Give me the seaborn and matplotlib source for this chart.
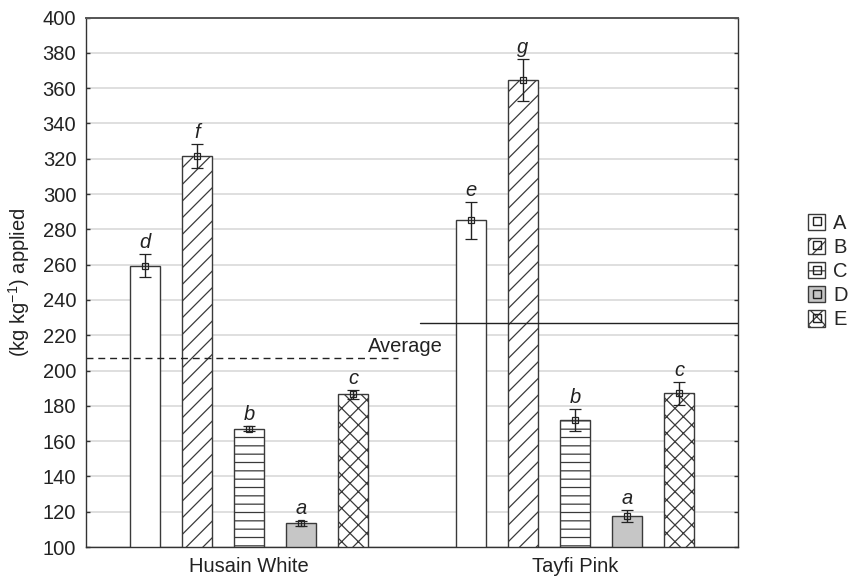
import numpy as np
import pandas as pd
import matplotlib
matplotlib.use("Agg")
import matplotlib.pyplot as plt
import seaborn as sns
from matplotlib.patches import Patch
from matplotlib.lines import Line2D

# ---- data -------------------------------------------------------------
cultivars = ["Husain White", "Tayfi Pink"]
treatments = ["A", "B", "C", "D", "E"]
husain_values = [259.5, 321.5, 167.0, 113.5, 186.5]
tayfi_values = [285.0, 364.5, 172.0, 117.5, 187.0]
husain_errors = [6.4, 6.7, 1.5, 1.5, 2.5]
tayfi_errors = [10.5, 12.0, 6.0, 3.5, 6.5]
husain_letters = ["d", "f", "b", "a", "c"]
tayfi_letters = ["e", "g", "b", "a", "c"]
average_values = [207.0, 227.0]
y_ticks = list(range(100, 401, 20))

# ---- style ------------------------------------------------------------
sns.set_style("white")
plt.rcParams["font.family"] = ["Liberation Sans", "DejaVu Sans"]
plt.rcParams["mathtext.fontset"] = "custom"
plt.rcParams["mathtext.rm"] = "Liberation Sans"
plt.rcParams["hatch.linewidth"] = 0.9
plt.rcParams["hatch.color"] = "#3a3a3a"
ink = "#222222"
fs = 14.5

df = pd.DataFrame({
    "cultivar": np.repeat(cultivars, len(treatments)),
    "treatment": treatments * len(cultivars),
    "value": husain_values + tayfi_values,
    "error": husain_errors + tayfi_errors,
    "letter": husain_letters + tayfi_letters,
})

fills = {"A": "white", "B": "white", "C": "white", "D": "#c6c6c6", "E": "white"}
hatches = {"A": "", "B": "//", "C": "--", "D": "", "E": "xx"}

fig = plt.figure(figsize=(8.51, 5.82), dpi=100)
ax = fig.add_axes([0.1011, 0.0601, 0.7661, 0.9098])

sns.barplot(
    data=df, x="cultivar", y="value", hue="treatment",
    order=cultivars, hue_order=treatments, palette=fills, saturation=1,
    width=0.8, gap=0.425, errorbar=None, edgecolor="#3a3a3a",
    linewidth=1.0, legend=False, ax=ax, zorder=2,
)

# hatching, error bars and significance letters per bar
for t, cont in zip(treatments, ax.containers):
    sub = df[df["treatment"] == t].set_index("cultivar").loc[cultivars]
    for bar, (_, row) in zip(cont, sub.iterrows()):
        bar.set_hatch(hatches[t])
        xc = bar.get_x() + bar.get_width() / 2
        ax.errorbar(xc, row["value"], yerr=row["error"], fmt="s", ms=5,
                    mfc="none", mec=ink, mew=0.9, ecolor=ink,
                    elinewidth=1.0, capsize=4.5, capthick=1.0, zorder=3)
        ax.annotate(row["letter"], (xc, row["value"] + row["error"]),
                    xytext=(0, 1.5), textcoords="offset points",
                    ha="center", va="bottom", fontsize=fs, style="italic",
                    color=ink)

# cultivar averages
ax.plot([-0.5, 0.457], [average_values[0]] * 2, ls=(0, (5, 3.5)),
        color=ink, lw=1.0, zorder=2.5)
ax.text(0.365, average_values[0] + 1.2, "Average", fontsize=fs,
        ha="left", va="bottom", color=ink)
ax.plot([0.525, 1.5], [average_values[1]] * 2, color=ink, lw=1.0, zorder=2.5)

# axes
ax.set_xlim(-0.5, 1.5)
ax.set_ylim(100, 400)
ax.set_yticks(y_ticks)
ax.set_axisbelow(True)
ax.yaxis.grid(True, color="#d9d9d9", lw=1.2)
ax.xaxis.grid(False)
for s in ax.spines.values():
    s.set_visible(True)
    s.set_color("#333333")
    s.set_linewidth(1.0)
ax.spines["top"].set_linewidth(1.4)
ax.spines["top"].set_color("#555555")
ax.tick_params(axis="y", direction="in", length=3, width=1.0, left=True,
               right=True, labelsize=fs, pad=7, colors="#333333",
               labelcolor=ink)
ax.tick_params(axis="x", direction="in", length=3, width=1.0, bottom=True,
               labelsize=fs, pad=7, colors="#333333", labelcolor=ink)
ax.set_xlabel("")
ax.set_ylabel(r"(kg kg$^{\mathregular{-1}}$) applied", fontsize=fs,
              color=ink, labelpad=8)

# legend
handles = [
    (Patch(facecolor=fills[t], edgecolor="#3a3a3a", hatch=hatches[t], lw=1.0),
     Line2D([], [], marker="s", ms=5.5, mfc="none", mec=ink, mew=1.0, ls="none"))
    for t in treatments
]
fig.legend(handles, treatments, loc="center left",
           bbox_to_anchor=(808 / 851, 0.5335), frameon=False, fontsize=fs,
           handlelength=0.85, handleheight=0.85, handletextpad=0.4,
           labelspacing=0.26, borderpad=0, borderaxespad=0)

fig.savefig("out.png", dpi=100)
